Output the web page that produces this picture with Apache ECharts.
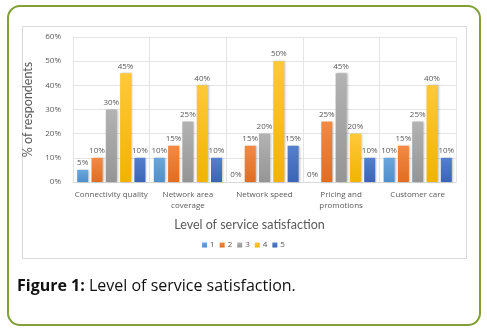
<!DOCTYPE html>
<html>
<head>
<meta charset="utf-8">
<script src="https://cdn.jsdelivr.net/npm/echarts@6/dist/echarts.min.js"></script>
<style>
  html, body { margin: 0; padding: 0; background: #ffffff; }
  #chart { width: 487px; height: 333px; }
</style>
</head>
<body>
<div id="chart"></div>
<script>
// Survey results: share of respondents per satisfaction level (1-5)
const categories = ['Connectivity quality', 'Network area\ncoverage', 'Network speed', 'Pricing and\npromotions', 'Customer care'];
const levelNames = ['1', '2', '3', '4', '5'];
const level1 = [5, 10, 0, 0, 10];
const level2 = [10, 15, 15, 25, 15];
const level3 = [30, 25, 20, 45, 25];
const level4 = [45, 40, 50, 20, 40];
const level5 = [10, 10, 15, 10, 10];
const yTicks = [0, 10, 20, 30, 40, 50, 60];

const levelValues = [level1, level2, level3, level4, level5];
const levelColors = [
  ['#6aa6dd', '#4f8fcb'],
  ['#f28a45', '#e06d22'],
  ['#b3b3b3', '#959595'],
  ['#ffc93a', '#f0b400'],
  ['#5580cd', '#3b64b6']
];

const labelFont = { fontFamily: 'Open Sans', fontSize: 8, color: '#595959' };
const titleFont = { fontFamily: 'Lato', fontSize: 12.5, color: '#595959' };

const chart = echarts.init(document.getElementById('chart'), null, { renderer: 'canvas' });

const series = levelNames.map((name, i) => ({
  name: name,
  type: 'bar',
  data: levelValues[i],
  barWidth: 11,
  barGap: '30%',
  itemStyle: {
    color: new echarts.graphic.LinearGradient(0, 0, 0, 1, [
      { offset: 0, color: levelColors[i][0] },
      { offset: 1, color: levelColors[i][1] }
    ]),
    shadowColor: 'rgba(0,0,0,0.25)',
    shadowBlur: 2,
    shadowOffsetX: 1,
    shadowOffsetY: 0
  },
  label: {
    show: true,
    position: 'top',
    distance: 3,
    formatter: p => p.value + '%',
    ...labelFont
  }
}));

chart.setOption({
  animation: false,
  backgroundColor: '#ffffff',
  color: levelColors.map(c => c[1]),
  grid: { left: 73, right: 31, top: 37, bottom: 151 },
  legend: {
    data: levelNames,
    bottom: 79,
    left: 'center',
    itemWidth: 5,
    itemHeight: 5,
    itemGap: 5,
    icon: 'rect',
    textStyle: { fontFamily: 'Open Sans', fontSize: 8, color: '#595959', padding: [0, 0, 0, -2] }
  },
  xAxis: {
    type: 'category',
    data: categories,
    name: 'Level of service satisfaction',
    nameLocation: 'middle',
    nameGap: 36,
    nameTextStyle: { ...titleFont, padding: [0, 30, 0, 0] },
    axisLine: { lineStyle: { color: '#d9d9d9' } },
    axisTick: { show: false },
    axisLabel: { interval: 0, margin: 7, lineHeight: 11, ...labelFont },
    splitLine: { show: true, lineStyle: { color: '#e4e4e4' } }
  },
  yAxis: {
    type: 'value',
    min: yTicks[0],
    max: yTicks[yTicks.length - 1],
    interval: 10,
    name: '% of respondents',
    nameLocation: 'middle',
    nameGap: 33,
    nameTextStyle: { ...titleFont, padding: [0, 0, 0, 0] },
    axisLine: { show: false },
    axisTick: { show: false },
    axisLabel: { formatter: v => v + '%', margin: 12, ...labelFont },
    splitLine: { lineStyle: { color: '#e4e4e4' } }
  },
  graphic: [
    {
      type: 'rect',
      z: -10,
      shape: { x: 8, y: 6, width: 472, height: 319, r: 12 },
      style: { fill: 'none', stroke: '#83a036', lineWidth: 2 }
    },
    {
      type: 'rect',
      z: -9,
      shape: { x: 22.5, y: 26.5, width: 444, height: 232 },
      style: { fill: 'none', stroke: '#d9d9d9', lineWidth: 1 }
    },
    {
      type: 'text',
      left: 17,
      top: 278,
      style: {
        text: '{b|Figure 1:} Level of service satisfaction.',
        rich: {
          b: { fontFamily: 'Open Sans', fontWeight: 'bold', fontSize: 16, fill: '#111111' }
        },
        fontFamily: 'Open Sans',
        fontSize: 16,
        fill: '#111111'
      }
    }
  ],
  series: series
});
</script>
</body>
</html>
